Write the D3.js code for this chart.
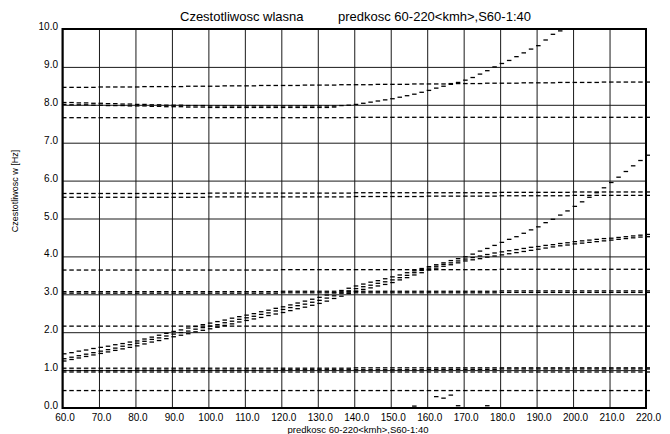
<!DOCTYPE html>
<html>
<head>
<meta charset="utf-8">
<script src="https://cdn.jsdelivr.net/npm/d3@7"></script>
<style>
  body { margin: 0; background: #fff; }
  svg { display: block; font-family: "Liberation Sans", Arial, Helvetica, sans-serif; }
</style>
</head>
<body>
<svg id="chart" width="670" height="434"></svg>
<script>
// Speed samples (km/h) at which each natural frequency was computed
const speeds = [
  60,62,64,66,68,70,72,74,76,78,
  80,82,84,86,88,90,92,94,96,98,
  100,102,104,106,108,110,112,114,116,118,
  120,122,124,126,128,130,132,134,136,138,
  140,142,144,146,148,150,152,154,156,158,
  160,162,164,166,168,170,172,174,176,178,
  180,182,184,186,188,190,192,194,196,198,
  200,202,204,206,208,210,212,214,216,218,
  220
];

// Natural frequencies [Hz], one array per mode (null = outside the 0-10 Hz window)
const mode85 = [
  8.46,8.46,8.46,8.46,8.46,8.47,8.47,8.47,8.47,8.47,
  8.47,8.48,8.48,8.48,8.48,8.48,8.48,8.49,8.49,8.49,
  8.49,8.49,8.50,8.50,8.50,8.50,8.50,8.51,8.51,8.51,
  8.51,8.51,8.51,8.52,8.52,8.52,8.52,8.52,8.53,8.53,
  8.53,8.53,8.53,8.54,8.54,8.54,8.54,8.54,8.55,8.55,
  8.55,8.55,8.55,8.56,8.56,8.56,8.56,8.56,8.57,8.57,
  8.57,8.57,8.57,8.58,8.58,8.58,8.58,8.58,8.59,8.59,
  8.59,8.59,8.59,8.59,8.60,8.60,8.60,8.60,8.60,8.60,
  8.60
];
const mode80rising = [
  8.06,8.06,8.05,8.05,8.04,8.04,8.03,8.03,8.02,8.02,
  8.01,8.01,8.00,8.00,7.99,7.99,7.99,7.98,7.98,7.98,
  7.97,7.97,7.97,7.97,7.97,7.97,7.97,7.97,7.97,7.97,
  7.97,7.97,7.97,7.97,7.97,7.97,7.97,7.97,7.98,7.99,
  8.01,8.04,8.07,8.10,8.13,8.16,8.20,8.24,8.28,8.33,
  8.38,8.44,8.49,8.54,8.59,8.65,8.72,8.81,8.90,9.00,
  9.09,9.17,9.27,9.37,9.47,9.56,9.71,9.86,9.95,null,
  null,null,null,null,null,null,null,null,null,null,
  null
];
const mode79 = [
  8.01,8.00,8.00,8.00,7.99,7.99,7.98,7.98,7.98,7.97,
  7.97,7.97,7.96,7.96,7.95,7.95,7.95,7.94,7.94,7.94,
  7.93,7.93,7.93,7.93,7.93,7.93,7.93,7.93,7.93,7.93,
  7.93,7.93,7.93,7.93,7.93,7.93,7.93,7.94,null,null,
  null,null,null,null,null,null,null,null,null,null,
  null,null,null,null,null,null,null,null,null,null,
  null,null,null,null,null,null,null,null,null,null,
  null,null,null,null,null,null,null,null,null,null,
  null
];
const mode77 = [
  7.66,7.66,7.66,7.66,7.66,7.66,7.66,7.66,7.66,7.66,
  7.66,7.66,7.66,7.66,7.66,7.66,7.66,7.66,7.66,7.66,
  7.66,7.66,7.66,7.66,7.66,7.66,7.66,7.66,7.66,7.66,
  7.66,7.66,7.66,7.66,7.66,7.66,7.66,7.66,7.66,7.66,
  7.67,7.67,7.67,7.67,7.67,7.67,7.67,7.67,7.67,7.67,
  7.67,7.67,7.67,7.67,7.67,7.67,7.67,7.67,7.67,7.67,
  7.67,7.67,7.67,7.67,7.67,7.67,7.67,7.67,7.67,7.67,
  7.67,7.67,7.67,7.67,7.67,7.67,7.67,7.67,7.67,7.67,
  7.67
];
const mode57 = [
  5.66,5.66,5.66,5.66,5.66,5.66,5.66,5.66,5.66,5.66,
  5.66,5.66,5.66,5.66,5.66,5.66,5.66,5.66,5.66,5.66,
  5.67,5.67,5.67,5.67,5.67,5.67,5.67,5.67,5.67,5.67,
  5.67,5.67,5.67,5.67,5.67,5.67,5.67,5.67,5.67,5.67,
  5.68,5.68,5.68,5.68,5.68,5.68,5.68,5.68,5.68,5.68,
  5.68,5.68,5.68,5.68,5.68,5.68,5.68,5.68,5.68,5.68,
  5.69,5.69,5.69,5.69,5.69,5.69,5.69,5.69,5.69,5.69,
  5.70,5.70,5.70,5.70,5.70,5.70,5.70,5.70,5.70,5.70,
  5.70
];
const mode56 = [
  5.56,5.56,5.56,5.56,5.56,5.56,5.56,5.56,5.56,5.56,
  5.56,5.56,5.56,5.56,5.56,5.56,5.56,5.56,5.56,5.56,
  5.57,5.57,5.57,5.57,5.57,5.57,5.57,5.57,5.57,5.57,
  5.57,5.57,5.57,5.57,5.57,5.57,5.57,5.57,5.57,5.57,
  5.58,5.58,5.58,5.58,5.58,5.58,5.58,5.58,5.58,5.58,
  5.59,5.59,5.59,5.59,5.59,5.59,5.59,5.59,5.59,5.59,
  5.60,5.60,5.60,5.60,5.60,5.60,5.60,5.60,5.60,5.60,
  5.61,5.61,5.61,5.61,5.61,5.61,5.61,5.61,5.61,5.61,
  5.61
];
const risingSteep = [
  1.43,1.46,1.50,1.53,1.57,1.60,1.63,1.67,1.70,1.74,
  1.77,1.82,1.87,1.92,1.97,2.02,2.06,2.11,2.15,2.20,
  2.24,2.28,2.32,2.37,2.41,2.45,2.49,2.54,2.58,2.63,
  2.67,2.72,2.77,2.82,2.87,2.92,2.98,3.04,3.10,3.16,
  3.22,3.27,3.32,3.36,3.41,3.46,3.51,3.57,3.62,3.68,
  3.73,3.78,3.83,3.89,3.94,3.99,4.06,4.14,4.21,4.29,
  4.37,4.45,4.52,4.61,4.70,4.78,4.89,4.98,5.09,5.20,
  5.32,5.44,5.56,5.68,5.81,5.95,6.09,6.24,6.39,6.53,
  6.67
];
const risingUpper = [
  1.30,1.34,1.38,1.42,1.46,1.50,1.54,1.58,1.63,1.67,
  1.71,1.76,1.81,1.85,1.90,1.95,1.99,2.03,2.08,2.12,
  2.16,2.20,2.25,2.29,2.34,2.38,2.42,2.47,2.51,2.56,
  2.60,2.65,2.70,2.74,2.79,2.84,2.90,2.96,3.03,3.09,
  3.15,3.20,3.24,3.29,3.33,3.38,3.44,3.50,3.57,3.63,
  3.69,3.74,3.79,3.83,3.88,3.93,3.97,4.01,4.05,4.09,
  4.12,4.15,4.18,4.21,4.24,4.26,4.29,4.31,4.34,4.36,
  4.39,4.41,4.43,4.45,4.47,4.48,4.50,4.52,4.54,4.56,
  4.58
];
const risingLower = [
  1.24,1.28,1.32,1.36,1.40,1.44,1.48,1.52,1.56,1.60,
  1.64,1.69,1.74,1.78,1.83,1.88,1.92,1.96,2.01,2.05,
  2.09,2.13,2.18,2.22,2.27,2.31,2.35,2.39,2.44,2.48,
  2.52,2.57,2.62,2.66,2.71,2.76,2.82,2.89,2.95,3.02,
  3.08,3.13,3.17,3.22,3.26,3.31,3.38,3.44,3.51,3.57,
  3.64,3.69,3.74,3.78,3.83,3.88,3.91,3.94,3.98,4.01,
  4.04,4.07,4.10,4.13,4.16,4.19,4.22,4.25,4.28,4.30,
  4.33,4.35,4.37,4.39,4.41,4.43,4.45,4.47,4.49,4.51,
  4.52
];
const mode36 = [
  3.64,3.64,3.64,3.64,3.64,3.64,3.64,3.64,3.64,3.64,
  3.64,3.64,3.64,3.64,3.64,3.64,3.64,3.64,3.64,3.64,
  3.64,3.64,3.64,3.64,3.64,3.64,3.64,3.64,3.64,3.64,
  3.65,3.65,3.65,3.65,3.65,3.65,3.65,3.65,3.65,3.65,
  3.65,3.65,3.65,3.65,3.65,3.65,3.65,3.65,3.65,3.65,
  3.65,3.65,3.65,3.65,3.65,3.65,3.65,3.65,3.65,3.65,
  3.66,3.66,3.66,3.66,3.66,3.66,3.66,3.66,3.66,3.66,
  3.66,3.66,3.66,3.66,3.66,3.66,3.66,3.66,3.66,3.66,
  3.66
];
const mode31 = [
  3.07,3.07,3.07,3.07,3.07,3.07,3.07,3.07,3.07,3.07,
  3.07,3.07,3.07,3.07,3.07,3.07,3.07,3.07,3.07,3.07,
  3.07,3.07,3.07,3.07,3.07,3.07,3.07,3.07,3.07,3.07,
  3.08,3.08,3.08,3.08,3.08,3.08,3.08,3.08,3.08,3.08,
  3.08,3.08,3.08,3.08,3.08,3.08,3.08,3.08,3.08,3.08,
  3.08,3.08,3.08,3.08,3.08,3.08,3.08,3.08,3.08,3.08,
  3.09,3.09,3.09,3.09,3.09,3.09,3.09,3.09,3.09,3.09,
  3.09,3.09,3.09,3.09,3.09,3.09,3.09,3.09,3.09,3.09,
  3.09
];
const mode30 = [
  3.03,3.03,3.03,3.03,3.03,3.03,3.03,3.03,3.03,3.03,
  3.03,3.03,3.03,3.03,3.03,3.03,3.03,3.03,3.03,3.03,
  3.03,3.03,3.03,3.03,3.03,3.03,3.03,3.03,3.03,3.03,
  3.04,3.04,3.04,3.04,3.04,3.04,3.04,3.04,3.04,3.04,
  3.04,3.04,3.04,3.04,3.04,3.04,3.04,3.04,3.04,3.04,
  3.04,3.04,3.04,3.04,3.04,3.04,3.04,3.04,3.04,3.04,
  3.05,3.05,3.05,3.05,3.05,3.05,3.05,3.05,3.05,3.05,
  3.05,3.05,3.05,3.05,3.05,3.05,3.05,3.05,3.05,3.05,
  3.05
];
const mode22 = [
  2.16,2.16,2.16,2.16,2.16,2.16,2.16,2.16,2.16,2.16,
  2.16,2.16,2.16,2.16,2.16,2.16,2.16,2.16,2.16,2.16,
  2.16,2.16,2.16,2.16,2.16,2.16,2.16,2.16,2.16,2.16,
  2.16,2.16,2.16,2.16,2.16,2.16,2.16,2.16,2.16,2.16,
  2.16,2.16,2.16,2.16,2.16,2.16,2.16,2.16,2.16,2.16,
  2.16,2.16,2.16,2.16,2.16,2.16,2.16,2.16,2.16,2.16,
  2.16,2.16,2.16,2.16,2.16,2.16,2.16,2.16,2.16,2.16,
  2.16,2.16,2.16,2.16,2.16,2.16,2.16,2.16,2.16,2.16,
  2.16
];
const mode11 = [
  1.05,1.05,1.05,1.05,1.05,1.05,1.05,1.05,1.05,1.05,
  1.05,1.05,1.05,1.05,1.05,1.05,1.05,1.05,1.05,1.05,
  1.05,1.05,1.05,1.05,1.05,1.05,1.05,1.05,1.05,1.05,
  1.05,1.05,1.05,1.05,1.05,1.05,1.05,1.05,1.05,1.05,
  1.06,1.06,1.06,1.06,1.06,1.06,1.06,1.06,1.06,1.06,
  1.06,1.06,1.06,1.06,1.06,1.06,1.06,1.06,1.06,1.06,
  1.06,1.06,1.06,1.06,1.06,1.06,1.06,1.06,1.06,1.06,
  1.06,1.06,1.06,1.06,1.06,1.06,1.06,1.06,1.06,1.06,
  1.06
];
const mode10 = [
  0.99,0.99,0.99,0.99,0.99,0.99,0.99,0.99,0.99,0.99,
  1.00,1.00,1.00,1.00,1.00,1.00,1.00,1.00,1.00,1.00,
  1.00,1.00,1.00,1.00,1.00,1.00,1.00,1.00,1.00,1.00,
  1.01,1.01,1.01,1.01,1.01,1.01,1.01,1.01,1.01,1.01,
  1.01,1.01,1.01,1.01,1.01,1.01,1.01,1.01,1.01,1.01,
  1.02,1.02,1.02,1.02,1.02,1.02,1.02,1.02,1.02,1.02,
  1.03,1.03,1.03,1.03,1.03,1.03,1.03,1.03,1.03,1.03,
  1.03,1.03,1.03,1.03,1.03,1.03,1.03,1.03,1.03,1.03,
  1.03
];
const mode095 = [
  0.95,0.95,0.95,0.95,0.95,0.95,0.95,0.95,0.95,0.95,
  0.95,0.95,0.95,0.95,0.95,0.95,0.95,0.95,0.95,0.95,
  0.95,0.95,0.95,0.95,0.95,0.95,0.95,0.95,0.95,0.95,
  0.95,0.95,0.95,0.95,0.95,0.95,0.95,0.95,0.95,0.95,
  0.95,0.95,0.95,0.95,0.95,0.95,0.95,0.95,0.95,0.95,
  0.95,0.95,0.95,0.95,0.95,0.95,0.95,0.95,0.95,0.95,
  0.95,0.95,0.95,0.95,0.95,0.95,0.95,0.95,0.95,0.95,
  0.95,0.95,0.95,0.95,0.95,0.95,0.95,0.95,0.95,0.95,
  0.95
];
const mode05 = [
  0.46,0.46,0.46,0.46,0.46,0.46,0.46,0.46,0.46,0.46,
  0.46,0.46,0.46,0.46,0.46,0.46,0.46,0.46,0.46,0.46,
  0.46,0.46,0.46,0.46,0.46,0.46,0.46,0.46,0.46,0.46,
  0.46,0.46,0.46,0.46,0.46,0.46,0.46,0.46,0.46,0.46,
  0.46,0.46,0.46,0.46,0.46,0.46,0.46,0.46,0.46,0.46,
  0.46,0.46,0.46,0.46,0.46,0.46,0.46,0.46,0.46,0.46,
  0.46,0.46,0.46,0.46,0.46,0.46,0.46,0.46,0.46,0.46,
  0.46,0.46,0.46,0.46,0.46,0.46,0.46,0.46,0.46,0.46,
  0.46
];

// Isolated low-frequency solutions
const lowSpeeds = [156, 162, 164, 166, 168, 176];
const lowFreqs  = [0.05, 0.30, 0.26, 0.34, 0.06, 0.06];

const xTicks = [60,70,80,90,100,110,120,130,140,150,160,170,180,190,200,210,220];
const yTicks = [0,1,2,3,4,5,6,7,8,9,10];

const titleLeft  = "Czestotliwosc wlasna";
const titleRight = "predkosc 60-220<kmh>,S60-1:40";
const xTitle     = "predkosc 60-220<kmh>,S60-1:40";
const yTitle     = "Czestotliwosc w [Hz]";

const modes = [
  mode85, mode80rising, mode79, mode77, mode57, mode56,
  risingSteep, risingUpper, risingLower,
  mode36, mode31, mode30, mode22, mode11, mode10, mode095, mode05
];

// ---- layout ----
const svg = d3.select("#chart");
const plot = { left: 62.5, right: 646, top: 29, bottom: 408 };

const x = d3.scaleLinear().domain([60, 220]).range([plot.left, plot.right]);
const y = d3.scaleLinear().domain([0, 10]).range([plot.bottom, plot.top]);

// grid + tick labels
const xAxis = d3.axisBottom(x)
  .tickValues(xTicks)
  .tickFormat(d3.format(".1f"))
  .tickSizeInner(-(plot.bottom - plot.top))
  .tickSizeOuter(0)
  .tickPadding(5.5);

const gx = svg.append("g")
  .attr("transform", `translate(0,${plot.bottom})`)
  .call(xAxis);
gx.select(".domain").remove();
gx.selectAll(".tick line").attr("stroke", "#1a1a1a").attr("stroke-width", 1);
gx.selectAll(".tick text")
  .attr("font-size", 10)
  .attr("font-family", "Liberation Sans, Arial, sans-serif")
  .attr("fill", "#000")
  .attr("dx", 2);

const yAxis = d3.axisLeft(y)
  .tickValues(yTicks)
  .tickFormat(d3.format(".1f"))
  .tickSizeInner(-(plot.right - plot.left))
  .tickSizeOuter(0)
  .tickPadding(4.5);

const gy = svg.append("g")
  .attr("transform", `translate(${plot.left},0)`)
  .call(yAxis);
gy.select(".domain").remove();
gy.selectAll(".tick line").attr("stroke", "#1a1a1a").attr("stroke-width", 1);
gy.selectAll(".tick text")
  .attr("font-size", 10)
  .attr("font-family", "Liberation Sans, Arial, sans-serif")
  .attr("fill", "#000")
  .attr("dy", "0.05em");

// frame
svg.append("rect")
  .attr("x", plot.left)
  .attr("y", plot.top)
  .attr("width", plot.right - plot.left)
  .attr("height", plot.bottom - plot.top)
  .attr("fill", "none")
  .attr("stroke", "#000")
  .attr("stroke-width", 2);

// each solution is marked with a short horizontal stroke
const dashLen = 4.5;
const marks = svg.append("g").attr("stroke", "#000").attr("stroke-width", 1.3);

modes.forEach(series => {
  const pts = speeds
    .map((s, i) => ({ s, f: series[i] }))
    .filter(d => d.f !== null);
  marks.append("g")
    .selectAll("line")
    .data(pts)
    .join("line")
    .attr("x1", d => x(d.s) - 0.5)
    .attr("x2", d => x(d.s) - 0.5 + dashLen)
    .attr("y1", d => y(d.f))
    .attr("y2", d => y(d.f));
});

marks.append("g")
  .selectAll("line")
  .data(lowSpeeds.map((s, i) => ({ s, f: lowFreqs[i] })))
  .join("line")
  .attr("x1", d => x(d.s) - 0.5)
  .attr("x2", d => x(d.s) - 0.5 + dashLen)
  .attr("y1", d => y(d.f))
  .attr("y2", d => y(d.f));

// titles
svg.append("text")
  .attr("x", 180).attr("y", 21)
  .attr("font-size", 13)
  .attr("fill", "#000")
  .text(titleLeft);

svg.append("text")
  .attr("x", 338).attr("y", 21)
  .attr("font-size", 13)
  .attr("fill", "#000")
  .text(titleRight);

svg.append("text")
  .attr("x", 358).attr("y", 432.5)
  .attr("text-anchor", "middle")
  .attr("font-size", 9.5)
  .attr("fill", "#000")
  .text(xTitle);

svg.append("text")
  .attr("transform", "translate(17.5,191) rotate(-90)")
  .attr("text-anchor", "middle")
  .attr("font-size", 9)
  .attr("fill", "#000")
  .text(yTitle);
</script>
</body>
</html>
